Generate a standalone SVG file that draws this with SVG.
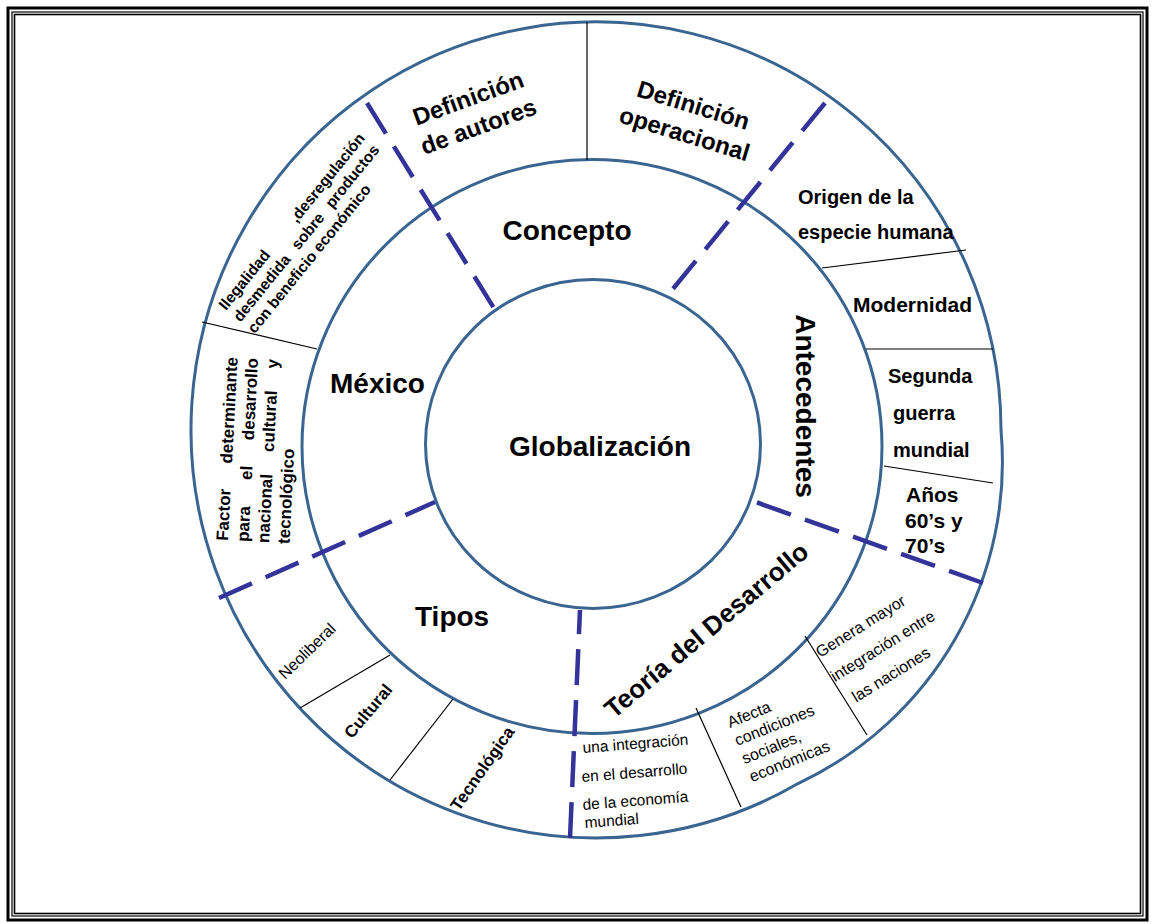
<svg xmlns="http://www.w3.org/2000/svg" width="1152" height="924" viewBox="0 0 1152 924">
<style>
text{font-family:"Liberation Sans",Arial,sans-serif;fill:#000}
.b{font-weight:bold}
.t28{font-size:28px;font-weight:bold}
.ring{fill:none;stroke:#3A6591;stroke-width:3}
.dash{stroke:#333399;stroke-width:4.5;stroke-dasharray:36 15;fill:none}
.sep{stroke:#000;stroke-width:1.2}
</style>
<rect width="1152" height="924" fill="#fff"/>
<g id="frame" fill="none" stroke="#000">
<rect x="8" y="8" width="1139" height="912" stroke-width="3"/>
<rect x="12" y="12" width="1131" height="904" stroke-width="1.2"/>
<rect x="14.5" y="14.5" width="1126" height="899" stroke-width="1.6"/>
</g>
<g id="rings">
<path class="ring" d="M1001,430 A355,355 0 0 1 798.5,783.3 A405,408 0 1 1 1001,430 Z"/>
<ellipse class="ring" cx="592" cy="446.5" rx="290" ry="287"/>
<ellipse class="ring" cx="593" cy="444" rx="167.5" ry="164.5"/>
</g>
<g id="connectors">
<line class="sep" x1="587" y1="22" x2="587" y2="160"/>
<line class="sep" x1="822" y1="268" x2="966" y2="250"/>
<line class="sep" x1="866" y1="349" x2="993" y2="349" stroke="#555"/>
<line class="sep" x1="884" y1="466" x2="993" y2="483"/>
<line class="sep" x1="202" y1="322" x2="317" y2="349"/>
<line class="sep" x1="300" y1="708" x2="390" y2="655"/>
<line class="sep" x1="390" y1="780" x2="453" y2="699"/>
<line class="sep" x1="696" y1="708" x2="741" y2="807"/>
<line class="sep" x1="805" y1="636" x2="867" y2="735"/>
<line class="dash" x1="367" y1="103" x2="497" y2="313"/>
<line class="dash" x1="825" y1="103" x2="668" y2="295"/>
<line class="dash" x1="983" y1="583" x2="750" y2="500"/>
<line class="dash" x1="219" y1="598" x2="435" y2="502"/>
<line class="dash" x1="570" y1="838" x2="580" y2="610"/>
</g>
<g id="globalizacion"><text class="t28" x="600" y="456" text-anchor="middle">Globalización</text></g>
<g id="concepto"><text class="t28" x="567" y="240" text-anchor="middle">Concepto</text></g>
<g id="mexico"><text class="t28" x="330" y="393">México</text></g>
<g id="tipos"><text class="t28" x="415" y="626">Tipos</text></g>
<g id="antecedentes"><text class="t28" transform="translate(796,406) rotate(90)" x="0" y="0" text-anchor="middle">Antecedentes</text></g>
<g id="teoria"><text class="b" font-size="26" transform="translate(712,637) rotate(-40)" text-anchor="middle">Teoría del Desarrollo</text></g>
<g id="def-autores" transform="translate(471,106) rotate(-20)">
<text class="b" font-size="24" text-anchor="middle" y="0">Definición</text>
<text class="b" font-size="24" text-anchor="middle" y="30">de autores</text>
</g>
<g id="def-operacional" transform="translate(691,113) rotate(17)">
<text class="b" font-size="24" text-anchor="middle" y="0">Definición</text>
<text class="b" font-size="24" text-anchor="middle" y="30">operacional</text>
</g>
<g id="origen"><text class="b" font-size="20" x="798" y="204">Origen de la</text><text class="b" font-size="20" x="798" y="239">especie humana</text></g>
<g id="modernidad"><text class="b" font-size="21" x="853" y="312">Modernidad</text></g>
<g id="segunda"><text class="b" font-size="20" x="888" y="383">Segunda</text><text class="b" font-size="20" x="893" y="420">guerra</text><text class="b" font-size="20" x="893" y="457">mundial</text></g>
<g id="anos"><text class="b" font-size="21" x="906" y="502">Años</text><text class="b" font-size="21" x="905" y="528">60’s y</text><text class="b" font-size="21" x="905" y="553">70’s</text></g>
<g id="ilegalidad" transform="translate(226,311) rotate(-51)" font-size="15.5" font-weight="bold">
<text x="0" y="0">Ilegalidad</text><text x="222" y="0" text-anchor="end">,desregulación</text>
<text x="0" y="18.5">desmedida</text><text x="113.6" y="18.5" text-anchor="middle">sobre</text><text x="222" y="18.5" text-anchor="end">productos</text>
<text x="0" y="37">con beneficio económico</text>
</g>
<g id="factor" transform="translate(228,541) rotate(-87)" font-size="17" font-weight="bold">
<text x="0" y="0">Factor</text><text x="184" y="0" text-anchor="end">determinante</text>
<text x="0" y="20.5">para</text><text x="69" y="20.5" text-anchor="middle">el</text><text x="184" y="20.5" text-anchor="end">desarrollo</text>
<text x="0" y="41">nacional</text><text x="121.8" y="41" text-anchor="middle">cultural</text><text x="184" y="41" text-anchor="end">y</text>
<text x="0" y="61.5">tecnológico</text>
</g>
<g id="neoliberal"><text font-size="16" transform="translate(307,651) rotate(-44)" y="5.5" text-anchor="middle">Neoliberal</text></g>
<g id="cultural"><text class="b" font-size="17" transform="translate(368,711) rotate(-50)" y="6" text-anchor="middle">Cultural</text></g>
<g id="tecnologica"><text class="b" font-size="17" transform="translate(483,769) rotate(-55)" y="5" text-anchor="middle">Tecnológica</text></g>
<g id="integracion" font-size="15.5">
<text x="583" y="753" transform="rotate(-4.5 583 753)">una integración</text>
<text x="582" y="782" transform="rotate(-4.5 582 782)">en el desarrollo</text>
<text x="583" y="810" transform="rotate(-4.5 583 810)">de la economía</text>
<text x="585" y="828" transform="rotate(-4.5 585 828)">mundial</text>
</g>
<g id="afecta" transform="translate(730,728) rotate(-22)" font-size="16">
<text x="0" y="0">Afecta</text><text x="0" y="19.5">condiciones</text><text x="0" y="39">sociales,</text><text x="0" y="58.5">económicas</text>
</g>
<g id="genera" transform="translate(820,658) rotate(-32)" font-size="16">
<text x="0" y="0">Genera mayor</text><text x="0" y="28.5">integración entre</text><text x="7" y="57">las naciones</text>
</g>
</svg>
